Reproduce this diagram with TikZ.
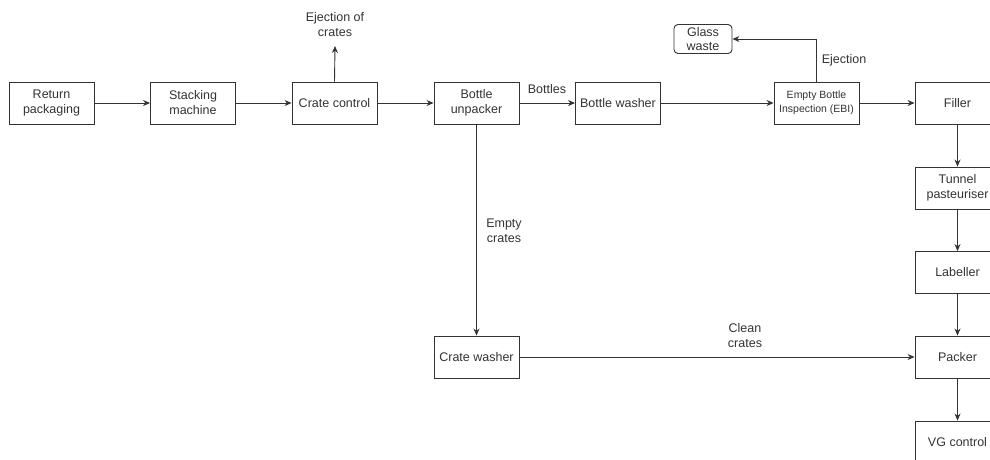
\documentclass[tikz,border=0pt]{standalone}
\usepackage{fontspec}
\setmainfont{Liberation Sans}
\usetikzlibrary{arrows.meta}
\definecolor{ink}{HTML}{333333}
\begin{document}
\begin{tikzpicture}[x=1pt,y=-1pt,
  box/.style={draw=ink, line width=0.9pt, minimum width=85pt, minimum height=42pt, inner sep=1pt, align=center, font=\fontsize{12.5}{15}\selectfont, text=ink},
  lbl/.style={align=center, font=\fontsize{12.5}{15}\selectfont, text=ink, inner sep=0pt},
  flow/.style={draw=ink, line width=0.9pt, -{Stealth[length=7pt,width=6pt]}}]
\clip (0,0) rectangle (990,459);
\node[box] (ret) at (51.5,103) {Return\\packaging};
\node[box] (stack) at (193,103) {Stacking\\machine};
\node[box] (cc) at (334.5,103) {Crate control};
\node[box] (unp) at (476.5,103) {Bottle\\unpacker};
\node[box] (bw) at (618,103) {Bottle washer};
\node[box, font=\fontsize{10.5}{14}\selectfont] (ebi) at (816.5,103) {Empty Bottle\\Inspection (EBI)};
\node[box] (fil) at (957.5,103) {Filler};
\node[box] (tun) at (957.5,188) {Tunnel\\pasteuriser};
\node[box] (lab) at (957.5,272.5) {Labeller};
\node[box] (pac) at (957.5,357) {Packer};
\node[box] (vg) at (957.5,442) {VG control};
\node[box] (cw) at (476.5,357) {Crate washer};
\node[box, minimum width=58pt, minimum height=29pt, inner sep=0pt, rounded corners=4pt, font=\fontsize{12.5}{13.5}\selectfont] (gw) at (703,39) {Glass\\waste};
\node[lbl] (lej) at (335,25) {Ejection of\\crates};
\coordinate (ejend) at (335,46);
\node[lbl] (lbot) at (547,89) {Bottles};
\node[lbl] (lejn) at (844,60) {Ejection};
\node[lbl] (lemp) at (504,231) {Empty\\crates};
\node[lbl] (lcl) at (745,336) {Clean\\crates};
\draw[flow] (ret) -- (stack);
\draw[flow] (stack) -- (cc);
\draw[flow] (cc) -- (unp);
\draw[flow] (cc.north) -- (ejend);
\draw[flow] (unp) -- (bw);
\draw[flow] (bw) -- (ebi);
\draw[flow] (ebi) -- (fil);
\draw[flow] (ebi.north) |- (gw.east);
\draw[flow] (fil) -- (tun);
\draw[flow] (tun) -- (lab);
\draw[flow] (lab) -- (pac);
\draw[flow] (pac) -- (vg);
\draw[flow] (unp) -- (cw);
\draw[flow] (cw) -- (pac);
\end{tikzpicture}
\end{document}
